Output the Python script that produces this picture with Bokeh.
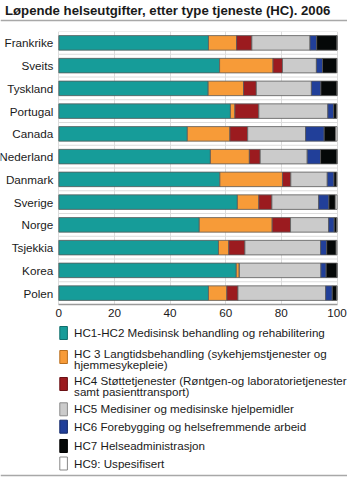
from bokeh.plotting import figure
from bokeh.models import Range1d, FixedTicker, ColumnDataSource
from bokeh.layouts import column
from bokeh.embed import file_html
from bokeh.resources import INLINE
from bokeh.core.properties import value

# ---------------- data ----------------
countries = ["Frankrike", "Sveits", "Tyskland", "Portugal", "Canada", "Nederland",
             "Danmark", "Sverige", "Norge", "Tsjekkia", "Korea", "Polen"]
hc1_hc2 = [53.8, 57.8, 53.7, 61.7, 46.2, 54.5, 57.9, 64.2, 50.5, 57.4, 63.8, 53.8]
hc3 = [10.1, 19.2, 12.7, 1.6, 15.3, 14.0, 22.5, 7.7, 26.2, 3.7, 1.1, 6.6]
hc4 = [5.5, 3.4, 4.6, 8.6, 6.4, 3.9, 3.0, 4.7, 6.6, 5.8, 0.0, 4.0]
hc5 = [20.9, 12.2, 19.8, 24.8, 20.8, 16.9, 13.1, 16.8, 13.7, 27.2, 29.3, 31.5]
hc6 = [2.4, 2.2, 3.4, 2.1, 6.7, 4.8, 2.4, 3.7, 2.0, 2.2, 1.9, 2.4]
hc7 = [7.3, 5.1, 5.8, 1.0, 4.1, 5.9, 0.9, 2.3, 0.9, 3.4, 3.9, 1.6]
hc9 = [0.0, 0.0, 0.0, 0.2, 0.5, 0.0, 0.2, 0.6, 0.1, 0.3, 0.0, 0.1]
x_ticks = [0, 20, 40, 60, 80, 100]

series_names = [
    ["HC1-HC2 Medisinsk behandling og rehabilitering"],
    ["HC 3 Langtidsbehandling (sykehjemstjenester og", "hjemmesykepleie)"],
    ["HC4 Støttetjenester (Røntgen-og laboratorietjenester", "samt pasienttransport)"],
    ["HC5 Medisiner og medisinske hjelpemidler"],
    ["HC6 Forebygging og helsefremmende arbeid"],
    ["HC7 Helseadministrasjon"],
    ["HC9: Uspesifisert"],
]
title_text = "Løpende helseutgifter, etter type tjeneste (HC). 2006"

colors = ["#169C99", "#F79B38", "#9B1B1F", "#CBCBCB", "#213F99", "#050808", "#FFFFFF"]
legend_line = ["#0F6E6C", "#B86E1E", "#6A1014", "#8A8A8A", "#142A6A", "#000000", "#888888"]

FONT = "Liberation Sans"
TXT = "#1a1a1a"
W = 347

# ---------------- header ----------------
HH = 28
head = figure(width=W, height=HH, x_range=Range1d(0, W), y_range=Range1d(HH, 0),
              x_axis_type=None, y_axis_type=None, min_border=0,
              toolbar_location=None, output_backend="svg", outline_line_color=None)
head.grid.visible = False
head.text(x=[4.5], y=[10], text=[title_text], text_font=value(FONT),
          text_font_size="13.2px", text_font_style="bold", text_color=TXT,
          text_baseline="middle", text_align="left")
head.segment(x0=[0], y0=[20], x1=[W], y1=[20], line_color="#a8a8a8", line_width=1.5)

# ---------------- main chart ----------------
n = len(countries)
ypos = [n - 1 - i for i in range(n)]
keys = ["hc1_hc2", "hc3", "hc4", "hc5", "hc6", "hc7", "hc9"]
src = ColumnDataSource(dict(y=ypos, name=countries, hc1_hc2=hc1_hc2, hc3=hc3, hc4=hc4,
                            hc5=hc5, hc6=hc6, hc7=hc7, hc9=hc9))

FW, FH = W, 273
px0, px100 = 58.3, 336.5          # pixel position of 0 and 100 inside the frame
scale = (px100 - px0) / 100.0
x_start = -px0 / scale
x_end = 100 + (FW - px100) / scale

p = figure(frame_width=FW, frame_height=FH, x_range=Range1d(x_start, x_end),
           y_range=Range1d(-0.5, n - 0.5), y_axis_type=None,
           min_border_left=0, min_border_right=0, min_border_top=3, min_border_bottom=20,
           toolbar_location=None, output_backend="svg", outline_line_color=None)

# gridlines
p.xgrid.ticker = FixedTicker(ticks=x_ticks)
p.xgrid.grid_line_color = "#dcdcdc"
p.ygrid.visible = False
bounds_y = [k - 0.5 for k in range(1, n + 1)]
p.segment(x0=[0] * len(bounds_y), x1=[100] * len(bounds_y), y0=bounds_y, y1=bounds_y,
          line_color="#dcdcdc", line_width=1)

p.hbar_stack(keys, y="y", height=0.64, color=colors, line_color="#5a5a5a",
             line_width=0.8, source=src)

# category labels
p.text(x=0, y="y", text="name", source=src, x_offset=-5.5, text_align="right",
       text_baseline="middle", text_font=value(FONT), text_font_size="11.7px",
       text_color=TXT)

p.xaxis.ticker = FixedTicker(ticks=x_ticks)
p.xaxis.bounds = (0, 100)
p.xaxis.axis_line_color = "#9a9a9a"
p.xaxis.axis_line_width = 1.5
p.xaxis.major_tick_in = 0
p.xaxis.major_tick_out = 0
p.xaxis.minor_tick_line_color = None
p.xaxis.major_label_text_font = FONT
p.xaxis.major_label_text_font_size = "11.7px"
p.xaxis.major_label_text_color = TXT
p.xaxis.major_label_standoff = 4

# ---------------- legend ----------------
LH = 153
leg = figure(width=W, height=LH, x_range=Range1d(0, W), y_range=Range1d(LH, 0),
             x_axis_type=None, y_axis_type=None, min_border=0,
             toolbar_location=None, output_backend="svg", outline_line_color=None)
leg.grid.visible = False

first_line_y = [8, 29, 56, 84.3, 101.7, 121, 138.5]
line_gap = 11.2
sq_x, sq_y = [], []
tx, ty, tt = [], [], []
for i, lines in enumerate(series_names):
    y0 = first_line_y[i]
    sq_x.append(63.1)
    sq_y.append(y0 + (3.5 if len(lines) > 1 else 0.5))
    for j, line in enumerate(lines):
        tx.append(73.6)
        ty.append(y0 + j * line_gap)
        tt.append(line)

leg.rect(x=sq_x, y=sq_y, width=7.6, height=13, fill_color=colors,
         line_color=legend_line, line_width=1)
leg.text(x=tx, y=ty, text=tt, text_font=value(FONT), text_font_size="11.6px",
         text_color=TXT, text_baseline="middle", text_align="left")
leg.segment(x0=[0], y0=[151], x1=[W], y1=[151], line_color="#a8a8a8", line_width=1.5)

layout = column(head, p, leg, spacing=0)
open("out.html", "w").write(file_html(layout, INLINE))
